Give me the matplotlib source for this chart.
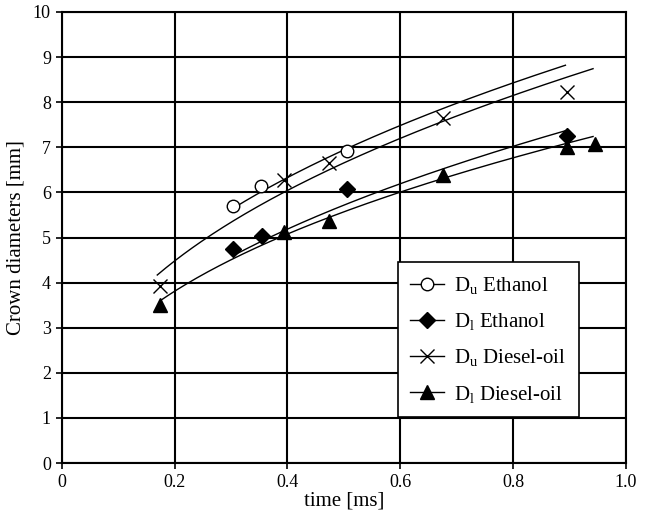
import numpy as np
import matplotlib
matplotlib.use("Agg")
import matplotlib.pyplot as plt

# measured points
t_du_eth = [0.303, 0.353, 0.505]
d_du_eth = [5.70, 6.14, 6.92]

t_dl_eth = [0.304, 0.354, 0.506, 0.896]
d_dl_eth = [4.74, 5.04, 6.07, 7.26]

t_du_die = [0.174, 0.394, 0.474, 0.676, 0.896]
d_du_die = [3.92, 6.27, 6.66, 7.64, 8.22]

t_dl_die = [0.174, 0.394, 0.474, 0.675, 0.896, 0.946]
d_dl_die = [3.50, 5.13, 5.37, 6.38, 7.00, 7.07]

# power trend lines D = a * t^b, with their t ranges
trend_du_eth = (9.24, 0.413, 0.304, 0.893)
trend_dl_eth = (7.74, 0.437, 0.304, 0.893)
trend_du_die = (8.97, 0.431, 0.169, 0.942)
trend_dl_die = (7.42, 0.414, 0.174, 0.942)


def trend(p):
    a, b, t0, t1 = p
    tt = np.linspace(t0, t1, 200)
    return tt, a * tt ** b


plt.rcParams['font.family'] = ['Liberation Serif', 'DejaVu Serif']
plt.rcParams['mathtext.fontset'] = 'custom'
plt.rcParams['mathtext.rm'] = 'Liberation Serif'
plt.rcParams['mathtext.it'] = 'Liberation Serif'

fig = plt.figure(figsize=(6.54, 5.18), dpi=100)
ax = fig.add_axes([0.0948, 0.106, 0.862, 0.871])

series = [
    (t_du_eth, d_du_eth, trend_du_eth, dict(marker='o', mfc='white', mec='black', ms=9, mew=1.0), r'D$_{\mathrm{u}}$ Ethanol'),
    (t_dl_eth, d_dl_eth, trend_dl_eth, dict(marker='D', mfc='black', mec='black', ms=8), r'D$_{\mathrm{l}}$ Ethanol'),
    (t_du_die, d_du_die, trend_du_die, dict(marker='x', mfc='black', mec='black', ms=10, mew=1.0), r'D$_{\mathrm{u}}$ Diesel-oil'),
    (t_dl_die, d_dl_die, trend_dl_die, dict(marker='^', mfc='black', mec='black', ms=10), r'D$_{\mathrm{l}}$ Diesel-oil'),
]

handles = []
for t, d, p, mk, lab in series:
    tt, dd = trend(p)
    ax.plot(tt, dd, color='black', lw=1.0, zorder=3)
    ax.plot(t, d, ls='none', zorder=4, **mk)
    h, = ax.plot([], [], color='black', lw=1.0, **mk)
    h.set_label(lab)
    handles.append(h)

ax.set_xlim(0, 1.0)
ax.set_ylim(0, 10)
ax.set_xticks([0, 0.2, 0.4, 0.6, 0.8, 1.0])
ax.set_xticklabels(['0', '0.2', '0.4', '0.6', '0.8', '1.0'])
ax.set_yticks(range(0, 11))
ax.grid(True, color='black', lw=1.5)
ax.set_axisbelow(True)
for s in ax.spines.values():
    s.set_color('black')
    s.set_linewidth(1.5)
ax.tick_params(labelsize=13, length=4, width=1.2, color='black', pad=4)
ax.set_xlabel('time [ms]', fontsize=15, labelpad=0)
ax.set_ylabel('Crown diameters [mm]', fontsize=15, labelpad=5)

leg = ax.legend(handles=handles, loc='lower left', bbox_to_anchor=(0.596, 0.102, 0.321, 0.339),
                mode='expand', fontsize=15, frameon=True, fancybox=False, edgecolor='black',
                framealpha=1, borderpad=0.6, labelspacing=0.73, handlelength=1.6, handletextpad=0.5,
                borderaxespad=0)
leg.get_frame().set_linewidth(1.2)

fig.savefig('out.png', dpi=100)
